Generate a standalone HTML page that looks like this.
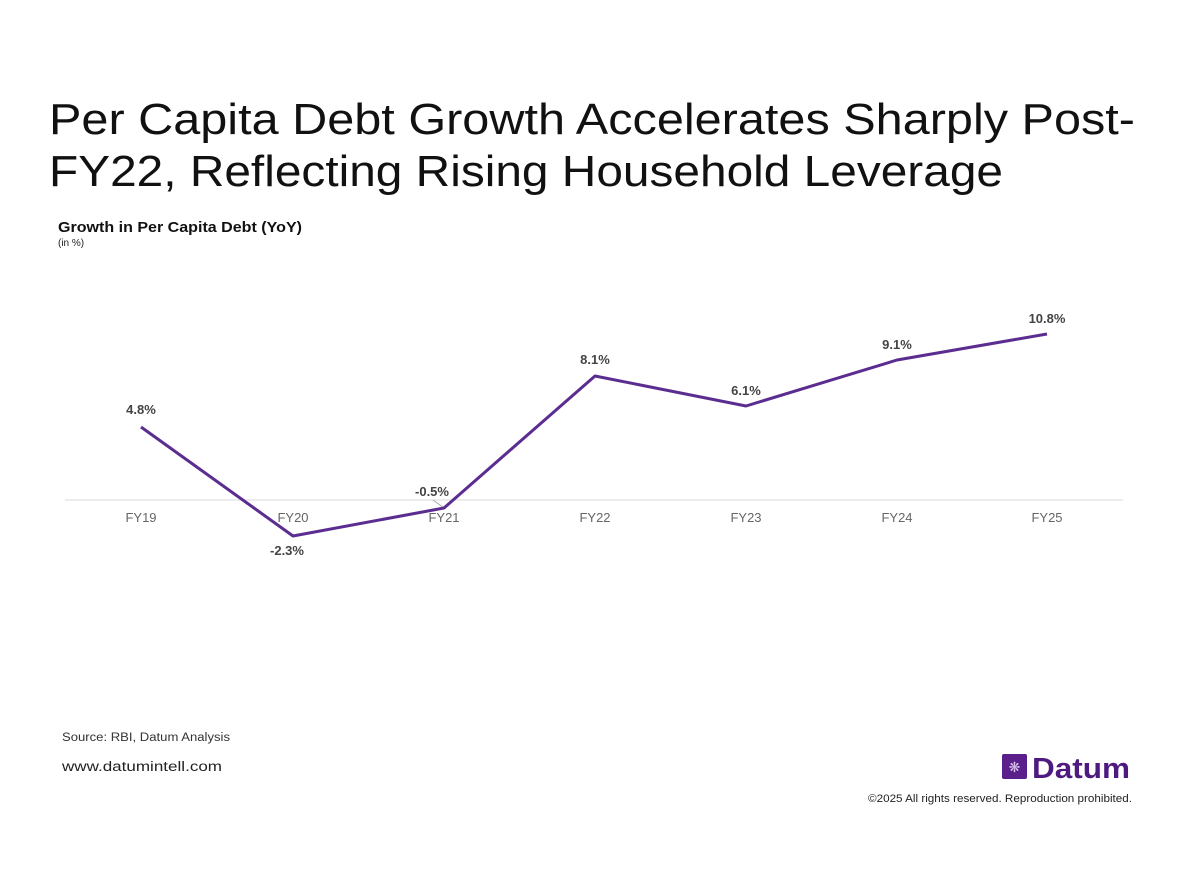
<!DOCTYPE html>
<html><head><meta charset="utf-8"><style>
html,body{margin:0;padding:0;background:#fff;width:1200px;height:875px;overflow:hidden;font-family:"Liberation Sans",sans-serif;}
</style></head><body>
<svg width="1200" height="875" viewBox="0 0 1200 875" xmlns="http://www.w3.org/2000/svg" font-family="Liberation Sans, sans-serif">
<text x="49" y="134" font-size="44" fill="#111" textLength="1086" lengthAdjust="spacingAndGlyphs">Per Capita Debt Growth Accelerates Sharply Post-</text>
<text x="49" y="186" font-size="44" fill="#111" textLength="954" lengthAdjust="spacingAndGlyphs">FY22, Reflecting Rising Household Leverage</text>
<text x="58" y="232" font-size="15" font-weight="bold" fill="#111" textLength="244" lengthAdjust="spacingAndGlyphs">Growth in Per Capita Debt (YoY)</text>
<text x="58" y="246" font-size="10" fill="#222">(in %)</text>
<line x1="65" y1="500" x2="1123" y2="500" stroke="#d8d8d8" stroke-width="1"/>
<line x1="433" y1="500" x2="444" y2="508" stroke="#aaa" stroke-width="1"/>
<g font-size="13" fill="#666" text-anchor="middle">
<text x="141" y="522">FY19</text><text x="293" y="522">FY20</text><text x="444" y="522">FY21</text>
<text x="595" y="522">FY22</text><text x="746" y="522">FY23</text><text x="897" y="522">FY24</text><text x="1047" y="522">FY25</text>
</g>
<polyline points="141,427 293,536 444,508 595,376 746,406 897,360 1047,334" fill="none" stroke="#5b2d91" stroke-width="3" stroke-linejoin="round"/>
<g font-size="13" font-weight="bold" fill="#444" text-anchor="middle">
<text x="141" y="414">4.8%</text><text x="287" y="555">-2.3%</text><text x="432" y="496">-0.5%</text>
<text x="595" y="364">8.1%</text><text x="746" y="395">6.1%</text><text x="897" y="349">9.1%</text><text x="1047" y="323">10.8%</text>
</g>
<text x="62" y="741" font-size="11.5" fill="#333" textLength="168" lengthAdjust="spacingAndGlyphs">Source: RBI, Datum Analysis</text>
<text x="62" y="771" font-size="13.5" fill="#222" textLength="160" lengthAdjust="spacingAndGlyphs">www.datumintell.com</text>
<rect x="1002" y="754" width="25" height="25" rx="2" fill="#5b1f8c"/>
<text x="1014.5" y="772" font-size="14" fill="#d9c6ee" text-anchor="middle">❋</text>
<text x="1032" y="778" font-size="29" font-weight="bold" fill="#4e1a80" textLength="98" lengthAdjust="spacingAndGlyphs">Datum</text>
<text x="868" y="802" font-size="11" fill="#222" textLength="264" lengthAdjust="spacingAndGlyphs">©2025 All rights reserved. Reproduction prohibited.</text>
</svg>
</body></html>
